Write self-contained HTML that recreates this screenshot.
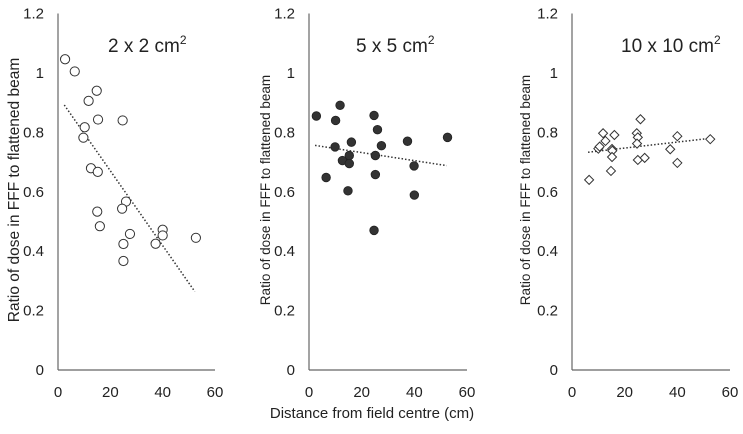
<!DOCTYPE html>
<html><head><meta charset="utf-8"><style>
body{margin:0;background:#fff;width:743px;height:429px;overflow:hidden}
svg text{font-family:"Liberation Sans",sans-serif;fill:#222}
</style></head><body>
<svg id="c" width="743" height="429"></svg>
<script>
const p1x=[2.7,6.4,14.8,11.7,15.3,24.7,10.2,9.7,12.6,15.2,26,24.5,15,16,27.5,40,40,37.3,25,25,52.7];
const p1y=[1.046,1.005,0.94,0.906,0.843,0.84,0.817,0.782,0.679,0.667,0.567,0.543,0.533,0.484,0.458,0.472,0.453,0.425,0.424,0.367,0.445];
const p1trend=[[2.4,0.892],[52.3,0.264]];
const p2x=[2.8,11.8,10.1,24.7,26,9.9,16.1,12.7,15.3,15.3,25.2,27.5,37.4,52.6,39.9,25.2,6.5,14.8,40,24.7];
const p2y=[0.855,0.891,0.84,0.857,0.809,0.751,0.767,0.705,0.722,0.695,0.722,0.755,0.77,0.783,0.687,0.658,0.648,0.603,0.589,0.47];
const p2trend=[[2.3,0.756],[52.3,0.688]];
const p3x=[6.5,10,10.5,11.8,12.7,16.1,15.2,15.3,15.2,14.8,24.6,25,24.7,26,25,27.6,37.3,40,40,52.5];
const p3y=[0.64,0.745,0.752,0.797,0.771,0.791,0.744,0.738,0.717,0.67,0.797,0.783,0.762,0.844,0.707,0.714,0.743,0.787,0.697,0.777];
const p3trend=[[6.1,0.733],[52.6,0.78]];
const xTicks=[0,20,40,60];
const yTicks=[0,0.2,0.4,0.6,0.8,1,1.2];
const titles=["2 x 2 cm","5 x 5 cm","10 x 10 cm"];
const NS="http://www.w3.org/2000/svg";
const svg=document.getElementById('c');
function mk(t,a,par){const e=document.createElementNS(NS,t);for(const k in a)e.setAttribute(k,a[k]);(par||svg).appendChild(e);return e;}
const panels=[
 {x0:58,x1:215,xs:p1x,ys:p1y,tr:p1trend,m:'circle',yl:14,fs:15.5,tx:108},
 {x0:309,x1:467,xs:p2x,ys:p2y,tr:p2trend,m:'dot',yl:265,fs:13.5,tx:356},
 {x0:572,x1:730,xs:p3x,ys:p3y,tr:p3trend,m:'diamond',yl:525,fs:13.5,tx:621}];
const Y0=370,Y1=13.5;
panels.forEach((p,i)=>{
 const g=mk('g',{});
 
 
 const sx=v=>p.x0+(p.x1-p.x0)*v/60, sy=v=>Y0-(Y0-Y1)*v/1.2;
 const ya=mk('line',{x1:p.x0,y1:Y1,x2:p.x0,y2:Y0,stroke:'#666','stroke-width':1.2},g);
 
 const xa=mk('line',{x1:p.x0,y1:Y0,x2:p.x1,y2:Y0,stroke:'#666','stroke-width':1.2},g);
 
 yTicks.forEach(v=>{const t=mk('text',{x:p.x0-14,y:sy(v)+5,'text-anchor':'end','font-size':15},g);t.textContent=String(v);
  });
 xTicks.forEach(v=>{const t=mk('text',{x:sx(v),y:397,'text-anchor':'middle','font-size':15},g);t.textContent=String(v);
  });
 const yt=mk('text',{x:0,y:0,transform:`translate(${p.yl+5},190) rotate(-90)`,'text-anchor':'middle','font-size':p.fs},g);
 yt.textContent='Ratio of dose in FFF to flattened beam';
 
 const tt=mk('text',{x:p.tx,y:52,'font-size':19},g);tt.textContent=titles[i];
 const sup=mk('tspan',{dy:-8,'font-size':12},tt);sup.textContent='2';
 
 const tl=mk('line',{x1:sx(p.tr[0][0]),y1:sy(p.tr[0][1]),x2:sx(p.tr[1][0]),y2:sy(p.tr[1][1]),stroke:'#333','stroke-width':1.5,'stroke-dasharray':'1.5,2'},g);
 
 p.xs.forEach((x,j)=>{const cx=sx(x),cy=sy(p.ys[j]);let e;
  if(p.m==='circle')e=mk('circle',{cx,cy,r:4.6,fill:'#fff',stroke:'#333','stroke-width':1},g);
  else if(p.m==='dot')e=mk('circle',{cx,cy,r:4.3,fill:'#333',stroke:'#222','stroke-width':0.8},g);
  else e=mk('polygon',{points:`${cx},${cy-4.5} ${cx+4.5},${cy} ${cx},${cy+4.5} ${cx-4.5},${cy}`,fill:'#fff',stroke:'#333','stroke-width':1},g);
  });
});
const xt=mk('text',{x:372,y:418,'text-anchor':'middle','font-size':15});
xt.textContent='Distance from field centre (cm)';


</script>
</body></html>
